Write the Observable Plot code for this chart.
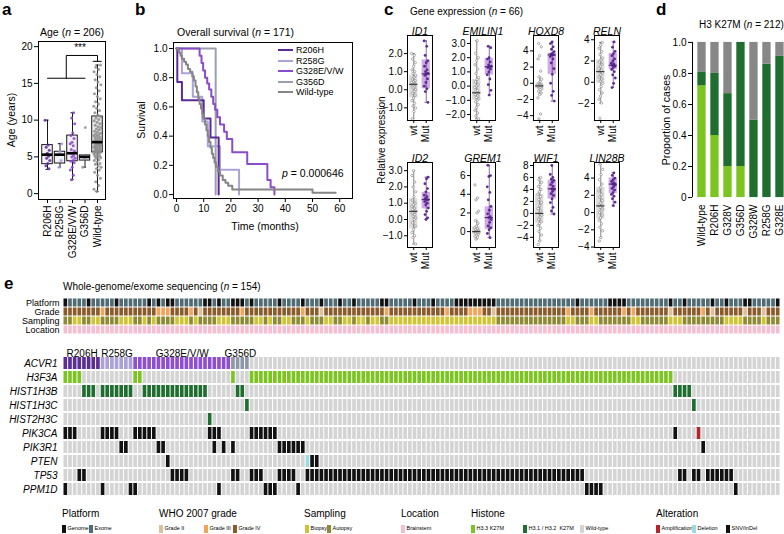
<!DOCTYPE html>
<html><head><meta charset="utf-8">
<script src="https://cdn.jsdelivr.net/npm/d3@7"></script>
<script src="https://cdn.jsdelivr.net/npm/@observablehq/plot@0.6"></script>
<style>
body{margin:0;background:#fff;}
#root{position:relative;width:784px;height:534px;overflow:hidden;font-family:"Liberation Sans",Arial,Helvetica,sans-serif;color:#000;background:#fff;}
.t{position:absolute;white-space:nowrap;line-height:1;}
</style></head><body><div id="root"></div>
<script>
// ---------------- DATA ----------------
// Panel a: age
const ageGroups = ["R206H","R258G","G328E/V/W","G356D","Wild-type"];
const ageColors = ["#5b2a96","#a89fd6","#8a47c9","#8e96a8","#8c8c8c"];
const ageQ1  = [4.0, 4.1, 4.4, 4.5, 5.6];
const ageMed = [5.3, 5.3, 5.5, 5.0, 7.0];
const ageQ3  = [6.6, 5.7, 7.9, 5.2, 10.5];
const ageLo  = [3.3, 3.6, 1.9, 3.6, 0.3];
const ageHi  = [10.0, 6.8, 11.0, 5.2, 17.5];
const ageR206H = [10.0,6.6,6.3,5.9,5.5,5.3,5.1,4.8,4.5,4.1,3.8,3.4];
const ageR258G = [6.8,5.7,5.3,4.5,3.6];
const ageG328 = [11.0,10.3,9.5,8.3,7.9,7.5,7.0,6.8,6.5,6.0,5.8,5.5,5.5,5.2,5.0,4.8,4.5,4.4,4.2,3.6,3.2,2.5,1.9];
const ageG356D = [9.0,5.2,5.0,4.7,3.6];
const ageWT = [0.3,0.6,1.1,1.6,2.1,2.5,2.9,3.2,3.4,3.6,3.8,4.0,4.1,4.3,4.5,4.6,4.8,4.9,5.0,5.1,5.2,5.3,5.4,5.5,5.6,5.6,5.7,5.8,5.8,5.9,6.0,6.0,6.1,6.2,6.2,6.3,6.4,6.4,6.5,6.6,6.6,6.7,6.8,6.8,6.9,7.0,7.0,7.1,7.2,7.2,7.3,7.4,7.5,7.6,7.7,7.8,7.9,8.0,8.1,8.2,8.4,8.5,8.7,8.8,9.0,9.1,9.3,9.5,9.7,9.9,10.1,10.3,10.5,10.7,11.0,11.3,11.6,11.9,12.2,12.5,12.9,13.2,13.6,14.0,14.4,14.8,15.2,15.5,15.9,16.2,16.6,16.9,17.2,17.5];
const ageBracketLeft = [0, 3];   // R206H .. G356D
const ageBracketRight = 4;       // Wild-type
const ageBracketY = [15.7, 18.8, 18.0];

// Panel b: survival (step points [months, survival])
const survGroups = ["R206H","R258G","G328E/V/W","G356D","Wild-type"];
const survColors = ["#5b2a96","#aaa3d8","#8a4cc8","#9aa0ae","#858585"];
const survR206H = [[0,1],[0.3,0.77],[2,0.645],[10,0.52],[12.5,0.39],[15.5,0]];
const survR258G = [[0,1],[2,0.83],[6,0.67],[9.5,0.5],[11.5,0.33],[16,0.17],[23,0]];
const survG328 = [[0,1],[8.5,0.95],[9.2,0.9],[9.8,0.85],[10.5,0.8],[11.3,0.76],[12,0.72],[12.8,0.67],[13.5,0.62],[14.2,0.58],[15,0.53],[16,0.48],[17.5,0.43],[18.5,0.38],[20.5,0.29],[26,0.21],[33.4,0.1],[34.6,0.05],[36,0]];
const survG356D = [[0,1],[14.4,0]];
const survWT = [[0,1],[0.5,0.99],[1,0.97],[1.5,0.95],[2,0.93],[2.8,0.91],[3.5,0.89],[4.2,0.86],[5,0.84],[5.8,0.81],[6.4,0.78],[7,0.74],[7.5,0.7],[8,0.66],[8.5,0.62],[9,0.59],[9.5,0.55],[10,0.52],[10.5,0.48],[11,0.44],[11.5,0.4],[12,0.36],[12.5,0.32],[13,0.28],[13.5,0.25],[14,0.22],[14.5,0.19],[15.2,0.16],[16,0.13],[17,0.1],[18,0.08],[19,0.06],[20.5,0.035],[50,0.012],[58.5,0.012]];
const survP = "0.000646";

// Panel c: gene expression
const genes = ["ID1","EMILIN1","HOXD8","RELN","ID2","GREM1","WIF1","LIN28B"];
const geneDomains = [[-1.7,3.0],[-2.42,3.56],[-4.6,5.9],[-3.6,4.4],[-1.72,3.5],[-1.7,7.4],[-5.7,8.5],[-4.05,5.8]];
const geneTicks = [[-1,0,1,2],[-2,-1,0,1,2,3],[-4,-2,0,2,4],[-2,0,2,4],[-1,0,1,2,3],[0,2,4,6],[-4,-2,0,2,4,6,8],[-4,-2,0,2,4]];
// [q1, median, q3, whisker low, whisker high]
const wtStats = [[-0.45,0.3,0.8,-1.6,2.0],[-1.0,-0.47,0.47,-2.3,3.2],[-0.7,-0.33,-0.1,-1.4,0.8],[-0.1,1.0,2.1,-1.95,3.75],[-0.57,0.5,1.27,-1.5,3.0],[-0.3,0.0,0.5,-0.8,1.2],[-1.7,0.0,3.2,-4.6,6.0],[-0.77,0.77,2.9,-2.9,5.6]];
const mutStats = [[0.05,0.88,1.65,-0.7,2.7],[0.78,1.36,1.95,-0.63,2.8],[1.1,3.5,3.7,-2.2,5.1],[1.2,1.6,2.7,-0.5,3.8],[0.65,1.22,1.67,0.0,2.6],[0.25,1.5,2.65,-0.65,7.1],[2.4,4.1,5.5,-0.1,8.0],[2.2,3.3,4.0,0.8,4.6]];
const wtPoints = [
 [2.0,1.9,1.7,1.5,1.3,1.1,1.0,0.9,0.8,0.7,0.6,0.5,0.45,0.4,0.35,0.3,0.3,0.25,0.2,0.15,0.1,0.0,-0.1,-0.2,-0.3,-0.45,-0.6,-0.75,-0.9,-1.0,-1.2,-1.6],
 [3.2,2.3,2.0,1.8,1.5,1.2,0.9,0.6,0.47,0.3,0.1,0.0,-0.1,-0.3,-0.4,-0.47,-0.5,-0.6,-0.7,-0.8,-0.9,-1.0,-1.1,-1.3,-1.5,-1.7,-1.9,-2.1,-2.3],
 [4.9,4.5,3.4,3.0,1.5,0.8,0.5,0.2,0.0,-0.1,-0.15,-0.2,-0.25,-0.3,-0.33,-0.35,-0.4,-0.5,-0.6,-0.7,-0.8,-1.0,-1.2,-1.4,-1.8,-3.8,-4.4],
 [3.75,3.5,3.2,2.9,2.6,2.3,2.1,1.9,1.7,1.5,1.3,1.1,1.0,0.9,0.7,0.5,0.3,0.1,-0.1,-0.4,-0.7,-1.0,-1.3,-1.6,-1.95,-3.4],
 [3.0,2.7,2.3,2.0,1.7,1.4,1.2,1.0,0.9,0.8,0.7,0.6,0.5,0.45,0.4,0.3,0.2,0.1,0.0,-0.2,-0.4,-0.6,-0.8,-1.0,-1.1,-1.5],
 [5.0,3.6,3.4,2.2,2.0,1.2,0.9,0.6,0.4,0.3,0.2,0.1,0.05,0.0,0.0,-0.05,-0.1,-0.15,-0.2,-0.3,-0.4,-0.5,-0.6,-0.8],
 [6.0,5.6,5.2,4.8,4.5,4.0,3.6,3.2,2.8,2.3,1.8,1.3,0.8,0.4,0.0,-0.3,-0.6,-1.0,-1.4,-1.7,-2.0,-2.5,-3.0,-3.6,-4.6,-5.2],
 [5.6,5.0,4.4,3.8,3.3,2.9,2.5,2.1,1.8,1.4,1.1,0.9,0.77,0.6,0.4,0.2,0.0,-0.3,-0.6,-0.9,-1.3,-1.7,-2.1,-2.9,-3.3]
];
const mutPoints = [
 [2.7,2.4,1.9,1.6,1.5,1.3,1.1,1.0,0.9,0.88,0.8,0.6,0.4,0.2,0.05,-0.1,-0.7],
 [2.8,2.7,2.0,1.9,1.7,1.5,1.4,1.36,1.3,1.2,1.0,0.8,0.5,0.1,-0.3,-0.63],
 [5.1,4.9,4.5,4.2,3.9,3.7,3.6,3.5,3.5,3.3,3.0,2.5,1.8,1.1,0.0,-1.0,-1.5,-2.2],
 [3.8,3.3,2.9,2.7,2.5,2.2,2.0,1.8,1.7,1.6,1.5,1.4,1.2,1.0,0.7,0.4,-0.1,-0.5],
 [2.6,2.5,2.2,1.9,1.7,1.5,1.4,1.3,1.22,1.2,1.1,1.0,0.9,0.7,0.5,0.3,0.1,0.0],
 [7.1,6.0,5.9,4.8,4.2,3.4,2.7,2.3,1.9,1.6,1.5,1.3,1.0,0.6,0.4,0.2,-0.2,-0.65],
 [8.0,6.5,6.0,5.7,5.5,5.2,4.8,4.5,4.1,4.0,3.7,3.3,3.0,2.4,1.8,1.0,0.4,-0.1],
 [4.6,4.3,4.0,3.8,3.6,3.4,3.3,3.2,3.0,2.8,2.6,2.3,2.1,1.9,1.6,1.2,0.8]
];

// Panel d: H3 K27M proportions
const dCats = ["Wild-type","R206H","G328V","G356D","G328W","R258G","G328E"];
const dH33 = [0.72,0.40,0.20,0.20,0,0,0];
const dH31 = [0.09,0.40,0.47,0.80,0.50,0.86,0.91];
const dWT  = [0.19,0.20,0.33,0,0.50,0.14,0.09];

// Panel e: oncoprint
const nSamples = 154;
const trackRows = ["Platform","Grade","Sampling","Location"];
const geneRows = ["ACVR1","H3F3A","HIST1H3B","HIST1H3C","HIST2H3C","PIK3CA","PIK3R1","PTEN","TP53","PPM1D"];
const platformGenome = [0,5,11,18,20,22,23,30,31,33,36,37,38,40,46,51,55,59,62,68,69,75,79,84,85,86,87,88,89,90,91,92,110,117,118,119,120,130,133,139,142,146,147,153];
const gradeIII = [8,20,21,22,27,38,51,69,82,87,88,89,108,113,120,122,137];
const gradeII = [29,55,92,130,139,146,150];
const samplingBiopsy = [[2,3],[6,7],[12,14],[17,17],[19,19],[24,26],[28,28],[33,35],[41,42],[44,44],[47,48],[52,52],[56,57],[60,61],[63,64],[66,67],[70,92],[108,109],[113,114],[122,123],[130,132],[142,145],[150,150]];
const acvr1Names = ["R206H","R258G","G328E/V/W","G356D"];
const acvr1Counts = [8,7,21,4];
const h3f3a = [[0,3],[15,16],[36,36],[40,130]];
const hist1h3b = [[4,6],[8,14],[17,30],[37,38],[131,134]];
const hist1h3c = [[39,39],[135,135]];
const hist2h3c = [[31,31]];
const pik3caSnv = [[0,2],[8,11],[15,19],[31,33],[40,45],[131,131]];
const pik3caAmp = [[136,136]];
const pik3r1 = [[12,13],[20,21],[32,32],[34,34],[36,36],[46,51],[137,137]];
const ptenSnv = [[22,22],[53,54]];
const ptenDel = [[52,52]];
const tp53 = [[3,4],[23,26],[36,37],[40,42],[46,49],[52,111],[132,133],[135,136],[138,143]];
const ppm1d = [[0,0],[8,8],[14,15],[33,33],[43,45],[50,50],[112,115],[144,144]];

// ---------------- HELPERS ----------------
const root = document.getElementById("root");
const FONT = '"Liberation Sans", Arial, Helvetica, sans-serif';
const baseStyle = {fontFamily: FONT, fontSize: "10px", overflow: "visible", background: "transparent", color: "#000"};
function put(node, left, top) {
  node.style.position = "absolute"; node.style.left = left + "px"; node.style.top = top + "px";
  node.style.maxWidth = "none";
  root.appendChild(node); return node;
}
function label(html, x, y, o = {}) {
  const {size = 10, anchor = "start", rotate = 0, weight = "normal", italic = false} = o;
  const d = document.createElement("div");
  d.className = "t"; d.innerHTML = html;
  d.style.fontSize = size + "px"; d.style.fontWeight = weight;
  if (italic) d.style.fontStyle = "italic";
  const tx = anchor === "start" ? "0" : anchor === "middle" ? "-50%" : "-100%";
  d.style.transform = `translate(${tx},-50%)` + (rotate ? ` rotate(${rotate}deg)` : "");
  d.style.left = x + "px"; d.style.top = y + "px";
  root.appendChild(d); return d;
}
const jit = (k, w) => ((((k * 0.61803398875) % 1) - 0.5) * 2 * w);
const expand = ranges => { const out = []; ranges.forEach(([a, b]) => { for (let i = a; i <= b; i++) out.push(i); }); return out; };

// ---------------- PANEL A ----------------
label("a", 2, 9, {size: 17, weight: "bold"});
label("Age (<i>n</i> = 206)", 72, 32, {size: 10.5, anchor: "middle"});
label("Age (years)", 11, 120, {size: 10.5, anchor: "middle", rotate: -90});
{
  const ageValues = [ageR206H, ageR258G, ageG328, ageG356D, ageWT];
  const boxes = ageGroups.map((g, i) => ({x: i, q1: ageQ1[i], med: ageMed[i], q3: ageQ3[i], lo: ageLo[i], hi: ageHi[i], fill: i === 4 ? "#ebebeb" : "#f4f1f8"}));
  const pts = [];
  ageValues.forEach((vals, g) => vals.forEach((v, k) => pts.push({x: g + jit(k + g * 3, g === 4 ? 0.3 : 0.2), y: v, c: ageColors[g]})));
  const [bl0, bl1] = ageBracketLeft, br = ageBracketRight, [yLow, yHigh, yFoot] = ageBracketY;
  const mid = (bl0 + bl1) / 2;
  const svg = Plot.plot({
    width: 110, height: 222, marginLeft: 38, marginRight: 5, marginTop: 5, marginBottom: 59,
    style: baseStyle,
    x: {domain: [-0.72, 4.64], label: null}, y: {domain: [-0.8, 20.7], label: null},
    color: {type: "identity"},
    marks: [
      Plot.ruleX(boxes, {x: "x", y1: "q3", y2: "hi", stroke: "#000", strokeWidth: 0.9}),
      Plot.ruleX(boxes, {x: "x", y1: "lo", y2: "q1", stroke: "#000", strokeWidth: 0.9}),
      Plot.ruleY(boxes, {y: "hi", x1: d => d.x - 0.13, x2: d => d.x + 0.13, stroke: "#000", strokeWidth: 0.9}),
      Plot.ruleY(boxes, {y: "lo", x1: d => d.x - 0.13, x2: d => d.x + 0.13, stroke: "#000", strokeWidth: 0.9}),
      Plot.rect(boxes, {x1: d => d.x - 0.42, x2: d => d.x + 0.42, y1: "q1", y2: "q3", fill: "fill", stroke: "#000", strokeWidth: 0.9}),
      Plot.dot(pts, {x: "x", y: "y", r: 1.5, fill: "c", fillOpacity: 0.85, stroke: "none"}),
      Plot.ruleY(boxes, {y: "med", x1: d => d.x - 0.42, x2: d => d.x + 0.42, stroke: "#000", strokeWidth: 2.6}),
      Plot.line([[bl0, yLow], [bl1, yLow]], {stroke: "#000", strokeWidth: 1}),
      Plot.line([[mid, yLow], [mid, yHigh], [br, yHigh], [br, yFoot]], {stroke: "#000", strokeWidth: 1}),
      Plot.line([[br - 0.35, yFoot], [br + 0.3, yFoot]], {stroke: "#000", strokeWidth: 1}),
      Plot.text(["***"], {x: () => (mid + br) / 2 - 0.15, y: () => yHigh + 1.0, text: d => d, fontSize: 10}),
      Plot.frame({stroke: "#000"}),
      Plot.axisY({ticks: [0, 5, 10, 15, 20], tickSize: 4, tickPadding: 2, fontSize: 10}),
      Plot.axisX({ticks: [0, 1, 2, 3, 4], tickFormat: i => ageGroups[i], tickRotate: -90, tickSize: 4, tickPadding: 2, fontSize: 10})
    ]
  });
  put(svg, 0, 36);
}

// ---------------- PANEL B ----------------
label("b", 135, 9, {size: 17, weight: "bold"});
label("Overall survival (<i>n</i> = 171)", 177, 32, {size: 10.5});
label("Survival", 141, 120, {size: 10.5, anchor: "middle", rotate: -90});
label("Time (months)", 265, 226, {size: 10.5, anchor: "middle"});
{
  const survSets = [survR206H, survR258G, survG328, survG356D, survWT];
  const rows = [];
  const drawOrder = [3, 1, 0, 2, 4];
  drawOrder.forEach(g => survSets[g].forEach(([m, s]) => rows.push({m, s, g: survGroups[g], c: survColors[g]})));
  const svg = Plot.plot({
    width: 224, height: 184, marginLeft: 43, marginRight: 2, marginTop: 6, marginBottom: 22,
    style: baseStyle,
    x: {domain: [-1.1, 64.7], label: null}, y: {domain: [-0.027, 1.041], label: null},
    color: {type: "identity"},
    marks: [
      Plot.line(rows, {x: "m", y: "s", z: "g", stroke: "c", strokeWidth: 2, curve: "step-after"}),
      Plot.frame({stroke: "#000"}),
      Plot.axisX({ticks: [0, 10, 20, 30, 40, 50, 60], tickSize: 4, tickPadding: 2, fontSize: 10}),
      Plot.axisY({ticks: [0, 0.2, 0.4, 0.6, 0.8, 1.0], tickFormat: d => d.toFixed(1), tickSize: 4, tickPadding: 2, fontSize: 10})
    ]
  });
  put(svg, 130, 36);
  survGroups.forEach((g, i) => {
    const ln = document.createElement("div");
    ln.style.width = "15px"; ln.style.height = "2px"; ln.style.background = survColors[i];
    put(ln, 278, 49 + i * 10.6);
    label(g, 296, 50 + i * 10.6, {size: 9});
  });
  label(`<i>p</i> = ${survP}`, 282, 173, {size: 10.5});
}

// ---------------- PANEL C ----------------
label("c", 384, 9, {size: 17, weight: "bold"});
label("Gene expression (<i>n</i> = 66)", 410, 12, {size: 10});
label("Relative expression", 382, 140, {size: 10, anchor: "middle", rotate: -90});
{
  const colX = [407, 470, 533, 594];
  const rowTop = [35, 162];
  const frameH = 85;
  genes.forEach((gname, gi) => {
    const fl = colX[gi % 4], ft = rowTop[Math.floor(gi / 4)];
    const ws = wtStats[gi], ms = mutStats[gi];
    const boxes = [
      {x: 0, q1: ws[0], med: ws[1], q3: ws[2], lo: ws[3], hi: ws[4], fill: "#dcdcdc", line: "#555555", medc: "#333333"},
      {x: 1, q1: ms[0], med: ms[1], q3: ms[2], lo: ms[3], hi: ms[4], fill: "#cfaae4", line: "#5c2d91", medc: "#4a1f7a"}
    ];
    const wtp = wtPoints[gi].map((v, k) => ({x: jit(k + gi, 0.17), y: v}));
    const mtp = mutPoints[gi].map((v, k) => ({x: 1 + jit(k + gi * 2, 0.17), y: v}));
    const svg = Plot.plot({
      width: 54, height: 16 + frameH + 30, marginLeft: 26, marginRight: 3, marginTop: 16, marginBottom: 30,
      style: baseStyle,
      x: {domain: [-0.5, 1.5], label: null}, y: {domain: geneDomains[gi], label: null},
      color: {type: "identity"},
      marks: [
        Plot.rect(boxes, {x1: d => d.x - 0.33, x2: d => d.x + 0.33, y1: "q1", y2: "q3", fill: "fill"}),
        Plot.ruleX(boxes, {x: "x", y1: "lo", y2: "hi", stroke: "line", strokeWidth: 0.7}),
        Plot.ruleY(boxes, {y: "hi", x1: d => d.x - 0.1, x2: d => d.x + 0.1, stroke: "line", strokeWidth: 0.7}),
        Plot.ruleY(boxes, {y: "lo", x1: d => d.x - 0.1, x2: d => d.x + 0.1, stroke: "line", strokeWidth: 0.7}),
        Plot.dot(wtp, {x: "x", y: "y", r: 1.2, stroke: "#7a7a7a", strokeWidth: 0.6, fill: "#ffffff"}),
        Plot.dot(mtp, {x: "x", y: "y", r: 1.4, fill: "#5c2d91", stroke: "none"}),
        Plot.ruleY(boxes, {y: "med", x1: d => d.x - 0.33, x2: d => d.x + 0.33, stroke: "medc", strokeWidth: 1.1}),
        Plot.frame({stroke: "#000"}),
        Plot.text([gname], {frameAnchor: "top", dy: -8, text: d => d, fontStyle: "italic", fontSize: 10.5}),
        Plot.axisY({ticks: geneTicks[gi], tickSize: 3, tickPadding: 2, fontSize: 10}),
        Plot.axisX({ticks: [0, 1], tickFormat: i => (i === 0 ? "wt" : "Mut"), tickRotate: -90, tickSize: 3, tickPadding: 2, fontSize: 10})
      ]
    });
    put(svg, fl - 26, ft - 16);
  });
}

// ---------------- PANEL D ----------------
label("d", 656, 9, {size: 17, weight: "bold"});
label("H3 K27M (<i>n</i> = 212)", 699, 25, {size: 10});
label("Proportion of cases", 666, 120, {size: 10.5, anchor: "middle", rotate: -90});
{
  const dColors = ["#7cc420", "#1f6d2f", "#878787"];
  const rects = [];
  dCats.forEach((c, i) => {
    let base = 0;
    [dH33[i], dH31[i], dWT[i]].forEach((v, k) => {
      if (v > 0) rects.push({i, y1: base, y2: base + v, fill: dColors[k]});
      base += v;
    });
  });
  const svg = Plot.plot({
    width: 144, height: 220, marginLeft: 52, marginRight: 0, marginTop: 5, marginBottom: 58,
    style: baseStyle,
    x: {domain: [-0.73, 6.35], label: null}, y: {domain: [-0.006, 1.006], label: null},
    color: {type: "identity"},
    marks: [
      Plot.rect(rects, {x1: d => d.i - 0.32, x2: d => d.i + 0.32, y1: d => Math.min(d.y2, 1), y2: "y1", fill: "fill"}),
      Plot.ruleX([-0.73], {y1: 0, y2: 1, stroke: "#000", strokeWidth: 1}),
      Plot.axisY({ticks: [0, 0.2, 0.4, 0.6, 0.8, 1.0], tickFormat: d => (d === 0 ? "0" : d.toFixed(1)), tickSize: 4, tickPadding: 2, fontSize: 10}),
      Plot.axisX({ticks: [0, 1, 2, 3, 4, 5, 6], tickFormat: i => dCats[i], tickRotate: -90, tickSize: 0, tickPadding: 6, fontSize: 10})
    ]
  });
  put(svg, 640, 36);
}

// ---------------- PANEL E ----------------
label("e", 4, 283, {size: 17, weight: "bold"});
label("Whole-genome/exome sequencing (<i>n</i> = 154)", 63, 287, {size: 10});
const COL = {genome: "#111111", exome: "#4f6b73", g2: "#dcc09c", g3: "#f4a35a", g4: "#8b5a2b",
  biopsy: "#cfc534", autopsy: "#8e8a34", brainstem: "#f6bfd1", bg: "#d4d4d4",
  h33: "#7cc420", h31: "#1f6d2f", amp: "#b3242b", del: "#9ddbe2", snv: "#111111",
  acvr1: ["#5a2e93", "#aaa1d4", "#8e4fcf", "#8e97a7"]};
{
  const biopsy = new Set(expand(samplingBiopsy));
  const genomeSet = new Set(platformGenome), g2 = new Set(gradeII), g3 = new Set(gradeIII);
  const trackCells = [];
  for (let c = 0; c < nSamples; c++) {
    trackCells.push({row: "Platform", c, fill: genomeSet.has(c) ? COL.genome : COL.exome});
    trackCells.push({row: "Grade", c, fill: g2.has(c) ? COL.g2 : g3.has(c) ? COL.g3 : COL.g4});
    trackCells.push({row: "Sampling", c, fill: biopsy.has(c) ? COL.biopsy : COL.autopsy});
    trackCells.push({row: "Location", c, fill: COL.brainstem});
  }
  const svg1 = Plot.plot({
    width: 784, height: 42, marginLeft: 63, marginRight: 4, marginTop: 2, marginBottom: 3,
    style: baseStyle,
    x: {domain: [0, nSamples], axis: null}, y: {domain: trackRows, padding: 0, label: null},
    color: {type: "identity"},
    marks: [
      Plot.barX(trackCells, {x1: "c", x2: d => d.c + 1, y: "row", fill: "fill", insetLeft: 0.5, insetRight: 0.5, insetTop: 0.5, insetBottom: 0.5}),
      Plot.axisY({tickSize: 0, tickPadding: 4, fontSize: 9})
    ]
  });
  put(svg1, 0, 295);

  const acvr1Col = new Array(nSamples).fill(null);
  const groups = [];
  let start = 0;
  acvr1Counts.forEach((n, gi) => {
    for (let c = start; c < start + n; c++) acvr1Col[c] = COL.acvr1[gi];
    groups.push({name: acvr1Names[gi], mid: start + n / 2});
    start += n;
  });
  const sets = {
    H3F3A: [new Set(expand(h3f3a)), COL.h33],
    HIST1H3B: [new Set(expand(hist1h3b)), COL.h31],
    HIST1H3C: [new Set(expand(hist1h3c)), COL.h31],
    HIST2H3C: [new Set(expand(hist2h3c)), COL.h31],
    PIK3R1: [new Set(expand(pik3r1)), COL.snv],
    TP53: [new Set(expand(tp53)), COL.snv],
    PPM1D: [new Set(expand(ppm1d)), COL.snv]
  };
  const pikSnv = new Set(expand(pik3caSnv)), pikAmp = new Set(expand(pik3caAmp));
  const ptS = new Set(expand(ptenSnv)), ptD = new Set(expand(ptenDel));
  const geneCells = [];
  for (let c = 0; c < nSamples; c++) {
    geneRows.forEach(r => {
      let f = COL.bg;
      if (r === "ACVR1") f = acvr1Col[c] || COL.bg;
      else if (r === "PIK3CA") f = pikAmp.has(c) ? COL.amp : pikSnv.has(c) ? COL.snv : COL.bg;
      else if (r === "PTEN") f = ptD.has(c) ? COL.del : ptS.has(c) ? COL.snv : COL.bg;
      else if (sets[r] && sets[r][0].has(c)) f = sets[r][1];
      geneCells.push({row: r, c, fill: f});
    });
  }
  const svg2 = Plot.plot({
    width: 784, height: 160, marginLeft: 63, marginRight: 4, marginTop: 16, marginBottom: 4,
    style: baseStyle,
    x: {domain: [0, nSamples], axis: null}, y: {domain: geneRows, padding: 0, label: null},
    color: {type: "identity"},
    marks: [
      Plot.barX(geneCells, {x1: "c", x2: d => d.c + 1, y: "row", fill: "fill", insetLeft: 0.5, insetRight: 0.5, insetTop: 1, insetBottom: 1}),
      Plot.text(groups, {x: "mid", frameAnchor: "top", dy: -7, text: "name", fontSize: 10}),
      Plot.axisY({tickSize: 0, tickPadding: 6, fontSize: 10, fontStyle: "italic"})
    ]
  });
  put(svg2, 0, 340);
}

// legend
{
  const titleY = 514, itemY = 529;
  const titles = [["Platform", 62], ["WHO 2007 grade", 159], ["Sampling", 304], ["Location", 401], ["Histone", 471], ["Alteration", 656]];
  titles.forEach(([t, x]) => label(t, x, titleY, {size: 10}));
  const items = [["Genome", COL.genome, 62], ["Exome", COL.exome, 89], ["Grade II", COL.g2, 159], ["Grade III", COL.g3, 204], ["Grade IV", COL.g4, 233],
    ["Biopsy", COL.biopsy, 305], ["Autopsy", COL.autopsy, 327], ["Brainstem", COL.brainstem, 401],
    ["H3.3 K27M", COL.h33, 471], ["H3.1 / H3.2 &nbsp;K27M", COL.h31, 523], ["Wild-type", COL.bg, 580],
    ["Amplification", COL.amp, 656], ["Deletion", COL.del, 692], ["SNV/InDel", COL.snv, 726]];
  items.forEach(([t, c, x]) => {
    const sw = document.createElement("div");
    sw.style.width = "3.5px"; sw.style.height = "8px"; sw.style.background = c;
    put(sw, x, itemY - 4);
    label(t, x + 5.5, itemY, {size: 5.5});
  });
}
</script></body></html>
